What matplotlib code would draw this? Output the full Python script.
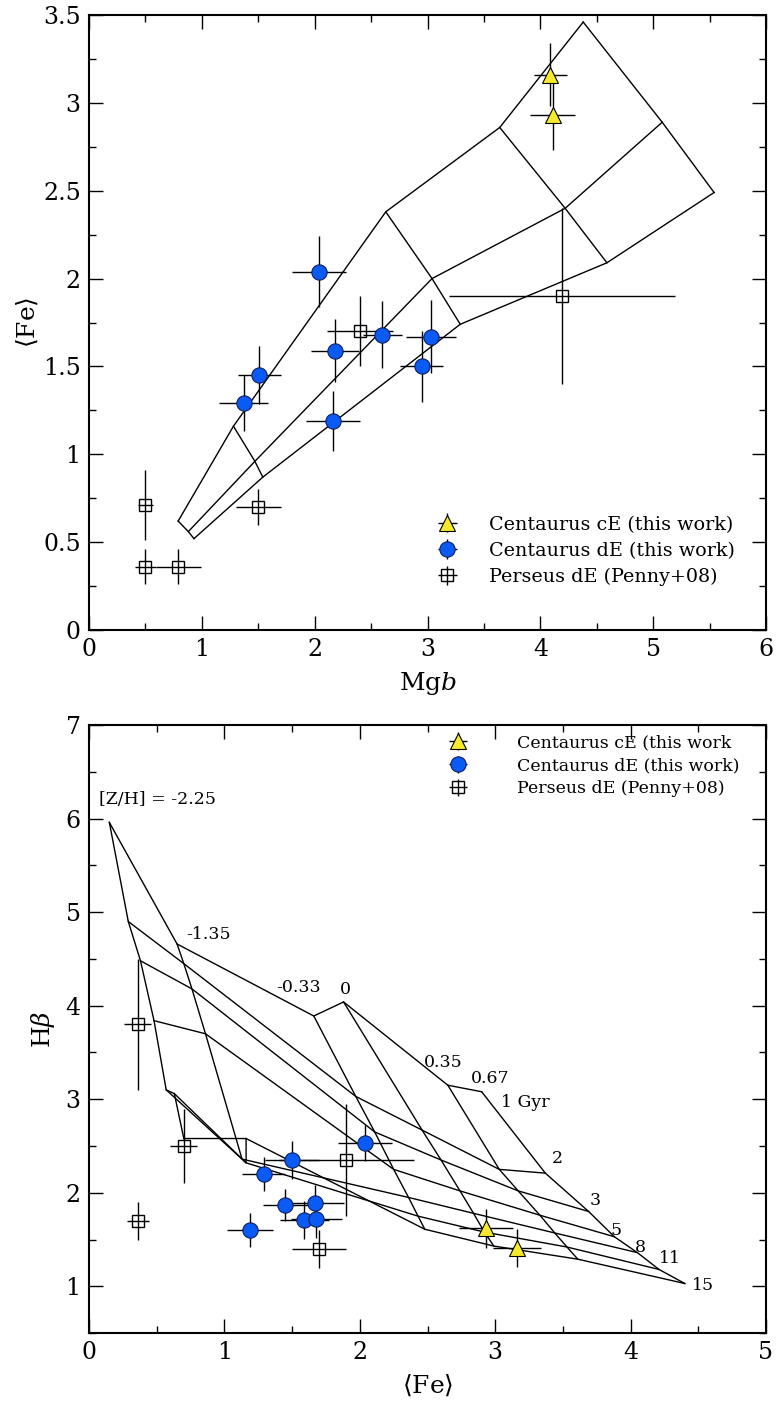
import numpy as np
import matplotlib.pyplot as plt
from matplotlib.ticker import MultipleLocator, FormatStrFormatter

plt.rcParams['font.family'] = ['DejaVu Serif']
plt.rcParams['mathtext.fontset'] = 'dejavuserif'

# Centaurus cE galaxies
ce_mgb = [4.09, 4.11]
ce_mgb_err = [0.15, 0.20]
ce_fe = [3.16, 2.93]
ce_fe_err = [0.18, 0.20]
ce_hb = [1.41, 1.62]
ce_hb_err = [0.20, 0.21]

# Centaurus dE galaxies
de_mgb = [2.04, 1.51, 1.37, 2.18, 2.16, 2.60, 3.03, 2.95]
de_mgb_err = [0.24, 0.19, 0.22, 0.21, 0.24, 0.17, 0.22, 0.19]
de_fe = [2.04, 1.45, 1.29, 1.59, 1.19, 1.68, 1.67, 1.50]
de_fe_err = [0.20, 0.165, 0.16, 0.18, 0.17, 0.19, 0.21, 0.20]
de_hb = [2.53, 1.87, 2.20, 1.71, 1.60, 1.72, 1.89, 2.35]
de_hb_err = [0.19, 0.17, 0.18, 0.20, 0.18, 0.20, 0.19, 0.20]

# Perseus dE (Penny+08), Mgb-Fe plane
per_mgb = [0.50, 0.50, 0.79, 1.50, 2.40, 4.19]
per_mgb_err = [0.07, 0.09, 0.20, 0.20, 0.29, 1.00]
per_fe_a = [0.71, 0.36, 0.36, 0.70, 1.70, 1.90]
per_fe_a_err = [0.20, 0.10, 0.10, 0.10, 0.20, 0.50]

# Perseus dE (Penny+08), Fe-Hbeta plane
per_fe_b = [0.36, 0.70, 0.36, 1.90, 1.70]
per_fe_b_err = [0.10, 0.10, 0.08, 0.50, 0.20]
per_hb = [3.80, 2.50, 1.70, 2.35, 1.40]
per_hb_err = [0.70, 0.40, 0.20, 0.60, 0.20]

# SSP model grid, Mgb vs <Fe>: rows are the three long tracks
grid_mgb = [[0.79, 1.28, 2.63, 3.64, 4.38],
            [0.88, 1.47, 3.04, 4.22, 5.08],
            [0.93, 1.54, 3.29, 4.59, 5.54]]
grid_fe_top = [[0.62, 1.16, 2.38, 2.86, 3.46],
               [0.56, 0.96, 2.00, 2.40, 2.89],
               [0.52, 0.87, 1.74, 2.09, 2.49]]

# SSP model grid, <Fe> vs Hbeta: rows = ages, columns = [Z/H]
ages = ['1 Gyr', '2', '3', '5', '8', '11', '15']
zh = ['[Z/H] = -2.25', '-1.35', '-0.33', '0', '0.35', '0.67']
grid_fe = [[0.15, 0.65, 1.66, 1.88, 2.65, 2.90],
           [0.29, 0.70, 1.97, 2.46, 3.03, 3.37],
           [0.38, 0.76, 2.11, 2.60, 3.17, 3.69],
           [0.48, 0.86, 2.25, 2.74, 3.33, 3.88],
           [0.57, 1.13, 2.36, 2.84, 3.44, 4.05],
           [0.63, 1.16, 2.43, 2.92, 3.53, 4.21],
           [0.70, 1.16, 2.48, 2.99, 3.61, 4.40]]
grid_hb = [[5.96, 4.66, 3.89, 4.04, 3.15, 3.08],
           [4.90, 4.45, 3.03, 2.67, 2.25, 2.21],
           [4.48, 4.18, 2.65, 2.35, 2.02, 1.80],
           [3.84, 3.70, 2.25, 2.02, 1.76, 1.53],
           [3.10, 2.36, 1.95, 1.78, 1.57, 1.36],
           [3.06, 2.32, 1.75, 1.58, 1.42, 1.18],
           [2.58, 2.58, 1.61, 1.43, 1.29, 1.03]]

ce_style = dict(fmt='^', ms=11, mfc='#f7ea2a', mec='black', mew=0.8,
                ecolor='black', elinewidth=1.0, capsize=0)
de_style = dict(fmt='o', ms=11, mfc='#0a5af5', mec='#10205a', mew=0.8,
                ecolor='black', elinewidth=1.0, capsize=0)
per_style = dict(fmt='s', ms=8, mfc='none', mec='black', mew=1.0,
                 ecolor='black', elinewidth=1.0, capsize=0)


def style_axes(ax):
    ax.tick_params(which='both', direction='in', top=True, right=True,
                   labelsize=17, width=1.0, pad=6)
    ax.tick_params(which='major', length=10)
    ax.tick_params(which='minor', length=5)
    ax.xaxis.set_major_formatter(FormatStrFormatter('%g'))
    ax.yaxis.set_major_formatter(FormatStrFormatter('%g'))
    for s in ax.spines.values():
        s.set_linewidth(1.5)


def draw_grid(ax, gx, gy):
    gx = np.array(gx)
    gy = np.array(gy)
    for i in range(gx.shape[0]):
        ax.plot(gx[i], gy[i], color='black', lw=1.0, zorder=1)
    for j in range(gx.shape[1]):
        ax.plot(gx[:, j], gy[:, j], color='black', lw=1.0, zorder=1)


fig = plt.figure(figsize=(7.79, 14.05), dpi=100)

# ---- top panel: Mgb vs <Fe>
ax1 = fig.add_axes([0.1143, 0.5516, 0.869, 0.4377])
draw_grid(ax1, grid_mgb, grid_fe_top)

h_ce = ax1.errorbar(ce_mgb, ce_fe, xerr=ce_mgb_err, yerr=ce_fe_err, zorder=3, **ce_style)
h_de = ax1.errorbar(de_mgb, de_fe, xerr=de_mgb_err, yerr=de_fe_err, zorder=3, **de_style)
h_per = ax1.errorbar(per_mgb, per_fe_a, xerr=per_mgb_err, yerr=per_fe_a_err, zorder=2, **per_style)

ax1.set_xlim(0, 6)
ax1.set_ylim(0, 3.5)
ax1.xaxis.set_major_locator(MultipleLocator(1))
ax1.xaxis.set_minor_locator(MultipleLocator(0.5))
ax1.yaxis.set_major_locator(MultipleLocator(0.5))
ax1.yaxis.set_minor_locator(MultipleLocator(0.25))
ax1.set_xlabel(r'Mg$b$', fontsize=18, labelpad=6)
ax1.set_ylabel(r'$\langle$Fe$\rangle$', fontsize=18, labelpad=2)
style_axes(ax1)
ax1.legend([h_ce, h_de, h_per],
           ['Centaurus cE (this work)', 'Centaurus dE (this work)', 'Perseus dE (Penny+08)'],
           loc='upper left', bbox_to_anchor=(0.508, 0.186), frameon=False,
           fontsize=13.8, handletextpad=1.4, labelspacing=0.42, handlelength=1.5,
           borderpad=0, borderaxespad=0)

# ---- bottom panel: <Fe> vs Hbeta
ax2 = fig.add_axes([0.1143, 0.0512, 0.869, 0.4327])
draw_grid(ax2, grid_fe, grid_hb)

h_ce2 = ax2.errorbar(ce_fe, ce_hb, xerr=ce_fe_err, yerr=ce_hb_err, zorder=3, **ce_style)
h_de2 = ax2.errorbar(de_fe, de_hb, xerr=de_fe_err, yerr=de_hb_err, zorder=3, **de_style)
h_per2 = ax2.errorbar(per_fe_b, per_hb, xerr=per_fe_b_err, yerr=per_hb_err, zorder=2, **per_style)

# metallicity labels along the 1 Gyr track
zh_pos = [(0.07, 6.20, 'left'), (0.72, 4.76, 'left'), (1.71, 4.19, 'right'),
          (1.89, 4.17, 'center'), (2.47, 3.39, 'left'), (2.82, 3.22, 'left')]
for lab, (x, y, ha) in zip(zh, zh_pos):
    ax2.text(x, y, lab, fontsize=12.5, ha=ha, va='center')
# age labels along the most metal-rich track
age_pos = [(3.04, 2.96), (3.42, 2.37), (3.70, 1.92), (3.85, 1.60),
           (4.03, 1.42), (4.21, 1.30), (4.45, 1.01)]
for lab, (x, y) in zip(ages, age_pos):
    ax2.text(x, y, lab, fontsize=12.5, ha='left', va='center')

ax2.set_xlim(0, 5)
ax2.set_ylim(0.5, 7)
ax2.xaxis.set_major_locator(MultipleLocator(1))
ax2.xaxis.set_minor_locator(MultipleLocator(0.5))
ax2.yaxis.set_major_locator(MultipleLocator(1))
ax2.yaxis.set_minor_locator(MultipleLocator(0.5))
ax2.set_xlabel(r'$\langle$Fe$\rangle$', fontsize=18, labelpad=6)
ax2.set_ylabel(r'H$\beta$', fontsize=18, labelpad=6)
style_axes(ax2)
ax2.legend([h_ce2, h_de2, h_per2],
           ['Centaurus cE (this work', 'Centaurus dE (this work)', 'Perseus dE (Penny+08)'],
           loc='upper left', bbox_to_anchor=(0.535, 0.985), frameon=False,
           fontsize=12.5, handletextpad=3.0, labelspacing=0.35, handlelength=0.8,
           borderpad=0, borderaxespad=0)

fig.savefig('out.png', dpi=100)
